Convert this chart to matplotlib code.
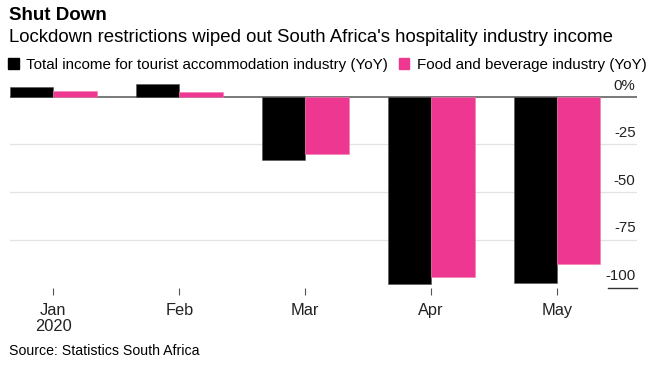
import matplotlib.pyplot as plt
import matplotlib.transforms as mtransforms
from matplotlib.patches import Patch
import numpy as np

# ------------------------------------------------------------
# Data
# ------------------------------------------------------------

months = ["Jan\n2020", "Feb", "Mar", "Apr", "May"]
accommodation = [5.2, 6.8, -33.2, -98.4, -97.9]
food_beverage = [3.2, 2.6, -30.0, -94.7, -88.0]

series_names = [
    "Total income for tourist accommodation industry (YoY)",
    "Food and beverage industry (YoY)",
]
yticks = [0, -25, -50, -75, -100]
ytick_labels = ["0%", "-25", "-50", "-75", "-100"]

BLACK = "#000000"
PINK = "#ED3790"

plt.rcParams["font.family"] = ["Liberation Sans", "DejaVu Sans"]

# ------------------------------------------------------------
# Figure
# ------------------------------------------------------------

fig = plt.figure(figsize=(6.6, 3.68), dpi=100)
ax = fig.add_axes([10 / 660, 1 - 288 / 368, 627 / 660, 208 / 368])

x = np.arange(len(months))
w = 0.345

ax.bar(x - w / 2, accommodation, width=w, color=BLACK, edgecolor="#555555",
       linewidth=0.4, zorder=3)
ax.bar(x + w / 2, food_beverage, width=w, color=PINK, edgecolor="#f27ab2",
       linewidth=0.4, zorder=3)

ax.set_xlim(-0.345, 4.635)
ax.set_ylim(-100.5, 8.9)

# y axis: labels on the right, sitting a little above the grid lines
ax.set_yticks(yticks)
ax.set_yticklabels(ytick_labels)
ax.yaxis.tick_right()
ax.tick_params(axis="y", length=0, pad=-1, labelsize=10.8, labelcolor="#222222")
lift = mtransforms.ScaledTranslation(0, 3 / 72, fig.dpi_scale_trans)
for lbl in ax.get_yticklabels():
    lbl.set_horizontalalignment("right")
    lbl.set_verticalalignment("bottom")
    lbl.set_transform(lbl.get_transform() + lift)

ax.grid(axis="y", color="#e3e3e3", linewidth=0.9, zorder=0)
for val, gl in zip(yticks, ax.get_ygridlines()):
    if val == 0:
        gl.set_color("#555555")
        gl.set_linewidth(1.1)
        gl.set_zorder(4)
    elif val == -100:
        gl.set_visible(False)

# short underline below the bottom label
trans = mtransforms.blended_transform_factory(ax.transAxes, ax.transData)
ax.plot([0.954, 1.0], [-100.5, -100.5], color="#333333", lw=1.0,
        transform=trans, clip_on=False)

# x axis
ax.set_xticks(x)
ax.set_xticklabels(months, fontsize=11.8, color="#222222", linespacing=1.1)
ax.tick_params(axis="x", length=5, width=0.8, color="#555555", pad=6)

for side in ["top", "right", "left", "bottom"]:
    ax.spines[side].set_visible(False)

# ------------------------------------------------------------
# Titles, legend, source
# ------------------------------------------------------------

fig.text(9 / 660, 1 - 16 / 368, "Shut Down", fontsize=13.5, fontweight="bold",
         va="center", ha="left")
fig.text(9 / 660, 1 - 38 / 368,
         "Lockdown restrictions wiped out South Africa's hospitality industry income",
         fontsize=13.4, va="center", ha="left")

handles = [Patch(color=BLACK), Patch(color=PINK)]
fig.legend(handles, series_names, loc="center left",
           bbox_to_anchor=(8 / 660, 1 - 65 / 368), ncol=2, frameon=False,
           fontsize=10.9, handlelength=0.7, handleheight=0.7,
           handletextpad=0.5, columnspacing=0.7, borderaxespad=0, borderpad=0)

fig.text(9 / 660, 1 - 351 / 368, "Source: Statistics South Africa",
         fontsize=10.2, va="center", ha="left")

fig.savefig("out.png", dpi=100)
